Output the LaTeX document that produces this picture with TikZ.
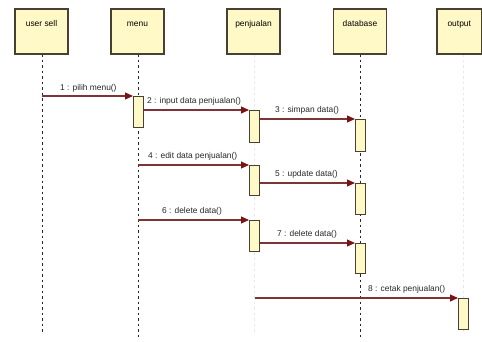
\documentclass[tikz,border=0pt]{standalone}
\usepackage{fontspec}
\setmainfont{Liberation Sans}
\usetikzlibrary{arrows.meta}
\definecolor{boxfill}{HTML}{FFF9C8}
\definecolor{boxline}{HTML}{4A4032}
\definecolor{msgline}{HTML}{7E3434}
\definecolor{msghead}{HTML}{7A1414}
\definecolor{faint}{HTML}{E8E8E8}
\tikzset{
  obj/.style={draw=boxline, line width=1.1pt, fill=boxfill, minimum width=53pt, minimum height=45pt,
    inner sep=0pt, text height=5pt, text depth=16pt, font=\fontsize{8.4}{9}\selectfont},
  act/.style={draw=boxline, line width=1pt, fill=boxfill, minimum width=10pt, inner sep=0pt},
  life/.style={black!85, line width=0.9pt, dash pattern=on 2.5pt off 3pt},
  faintlife/.style={faint, line width=1pt, dash pattern=on 2.5pt off 3pt},
  msg/.style={msgline, line width=1.1pt, -{Triangle[length=8pt,width=7pt,color=msghead,fill=msghead]}},
  lbl/.style={anchor=base west, inner sep=0pt, text=black!85, font=\fontsize{8.4}{9}\selectfont},
}
\begin{document}
\begin{tikzpicture}[x=1pt,y=-1pt]
\useasboundingbox (0,0) rectangle (482,341);
% lifelines
\coordinate (uTop) at (42,54);   \coordinate (uBot) at (42,332);
\coordinate (mTop) at (138,54);  \coordinate (mBot) at (138,338);
\coordinate (pTop) at (254,54);  \coordinate (pBot) at (254,332);
\coordinate (dTop) at (360,54);  \coordinate (dBot) at (360,338);
\coordinate (oTop) at (463,54);  \coordinate (oBot) at (463,332);
\draw[life] (uTop) -- (uBot);
\draw[life] (mTop) -- (mBot);
\draw[faintlife] (pTop) -- (pBot);
\draw[life] (dTop) -- (dBot);
\draw[faintlife] (oTop) -- (oBot);
% objects
\node[obj] (user) at (41.5,31.5) {user sell};
\node[obj] (menu) at (137.5,31.5) {menu};
\node[obj] (penj) at (253.5,31.5) {penjualan};
\node[obj] (db) at (360,31.5) {database};
\node[obj, minimum width=44.5pt] (out) at (459.25,31.5) {output};
% activations
\node[act, minimum height=31pt, anchor=north west] (ma1) at (133,96) {};
\node[act, minimum height=32pt, anchor=north west] (pa1) at (249,110) {};
\node[act, minimum height=32pt, anchor=north west] (da1) at (355,119) {};
\node[act, minimum height=30pt, anchor=north west] (pa2) at (249,165) {};
\node[act, minimum height=31pt, anchor=north west] (da2) at (355,183) {};
\node[act, minimum height=31pt, anchor=north west] (pa3) at (249,220) {};
\node[act, minimum height=30pt, anchor=north west] (da3) at (355,243) {};
\node[act, minimum height=31pt, anchor=north west] (oa1) at (458,298) {};
% free ends on lifelines
\coordinate (u1) at (42,96);
\coordinate (m4) at (138,165);
\coordinate (m6) at (138,220);
\coordinate (p8) at (255,298);
% messages
\draw[msg] (u1) -- (ma1.north west);
\draw[msg] (ma1.east |- pa1.north) -- (pa1.north west);
\draw[msg] (pa1.east |- da1.north) -- (da1.north west);
\draw[msg] (m4) -- (pa2.north west);
\draw[msg] (pa2.east |- da2.north) -- (da2.north west);
\draw[msg] (m6) -- (pa3.north west);
\draw[msg] (pa3.east |- da3.north) -- (da3.north west);
\draw[msg] (p8) -- (oa1.north west);
% labels
\node[lbl] (l1) at (60,90) {1 : pilih menu()};
\node[lbl] (l2) at (147,103.5) {2 : input data penjualan()};
\node[lbl] (l3) at (275,112.5) {3 : simpan data()};
\node[lbl] (l4) at (148,158.5) {4 : edit data penjualan()};
\node[lbl] (l5) at (275,176.5) {5 : update data()};
\node[lbl] (l6) at (162,213.5) {6 : delete data()};
\node[lbl] (l7) at (277,236.5) {7 : delete data()};
\node[lbl] (l8) at (368,291.5) {8 : cetak penjualan()};
\end{tikzpicture}
\end{document}
